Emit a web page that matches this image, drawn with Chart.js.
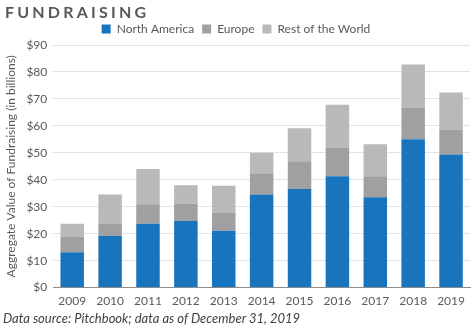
<!DOCTYPE html>
<html>
<head>
<meta charset="utf-8">
<script src="https://cdn.jsdelivr.net/npm/chart.js@4"></script>
<style>
  html, body { margin:0; padding:0; background:#fff; }
  #wrap { position:relative; width:475px; height:329px; overflow:hidden; }
  #chart { position:absolute; left:0; top:0; }
  .title { position:absolute; left:5px; top:2px; font:bold 16px Lato, "Liberation Sans", sans-serif; letter-spacing:3.2px; color:#595959; }
  .note { position:absolute; left:3px; top:310px; font:italic 13px Lato, "Liberation Sans", sans-serif; color:#404040; }
</style>
</head>
<body>
<div id="wrap">
  <canvas id="chart" width="475" height="329"></canvas>
  <div class="title">FUNDRAISING</div>
  <div class="note">Data source: Pitchbook; data as of December 31, 2019</div>
</div>
<script>
// --------- DATA ----------
const years = ['2009','2010','2011','2012','2013','2014','2015','2016','2017','2018','2019'];
const northAmerica = [13.1, 19.2, 23.7, 24.7, 21.1, 34.5, 36.6, 41.3, 33.5, 55.0, 49.4];
const europe       = [5.9, 4.6, 7.2, 6.5, 6.8, 7.6, 10.3, 10.7, 7.8, 11.8, 9.2];
const restOfWorld  = [4.7, 10.7, 13.1, 6.8, 9.9, 7.9, 12.2, 15.8, 11.9, 16.0, 13.8];

const txt = '#595959';
const font = {family:'Lato, "Liberation Sans", sans-serif', size:12};

new Chart(document.getElementById('chart'), {
  type:'bar',
  data:{
    labels:years,
    datasets:[
      {label:'North America', data:northAmerica, backgroundColor:'#1874bd'},
      {label:'Europe', data:europe, backgroundColor:'#a0a0a3'},
      {label:'Rest of the World', data:restOfWorld, backgroundColor:'#b9b9bc'}
    ]
  },
  options:{
    responsive:false,
    animation:false,
    maintainAspectRatio:false,
    layout:{padding:{left:2, right:5, top:15, bottom:15}},
    datasets:{bar:{categoryPercentage:0.62, barPercentage:1}},
    plugins:{
      legend:{
        labels:{color:txt, font:font, boxWidth:9, boxHeight:9, padding:8},
      },
      tooltip:{enabled:false}
    },
    scales:{
      x:{
        stacked:true,
        grid:{display:false, drawTicks:false},
        border:{color:'#8c8c8c'},
        ticks:{color:txt, font:font, padding:6}
      },
      y:{
        stacked:true,
        min:0, max:90,
        ticks:{stepSize:10, color:txt, font:font, padding:6, callback:v=>'$'+v},
        grid:{color:'#e3e3e3', drawTicks:false},
        border:{display:false},
        title:{display:true, text:'Aggregate Value of Fundraising (in billions)', color:txt, font:font, padding:2}
      }
    }
  }
});
</script>
</body>
</html>
